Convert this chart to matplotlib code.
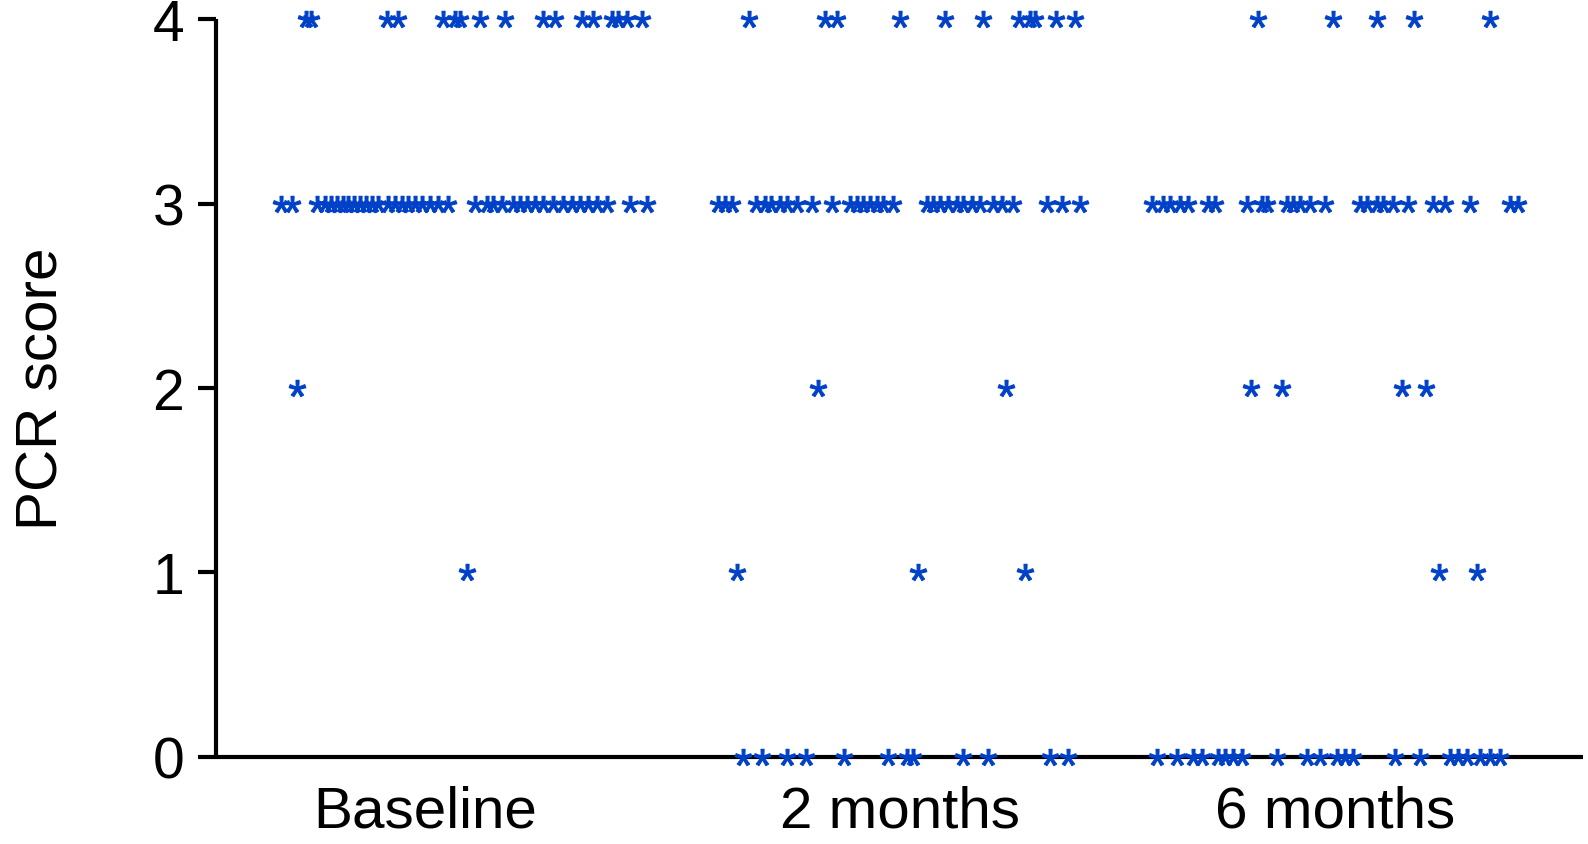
"""
PCR score per patient at baseline, 2 months and 6 months, drawn as a strip
of asterisks (one per patient) for every score level.
"""
import numpy as np
import matplotlib
matplotlib.use("Agg")
import matplotlib.pyplot as plt
from matplotlib.font_manager import FontProperties
from matplotlib.path import Path
from matplotlib.textpath import TextPath

plt.rcParams["font.family"] = ["Liberation Sans", "DejaVu Sans"]

# --------------------------------------------------------------------------- #
# Data: horizontal jitter of each patient, in % of the spacing between groups
# --------------------------------------------------------------------------- #
GROUPS = ["Baseline", "2 months", "6 months"]
SCORES = [0, 1, 2, 3, 4]

BASELINE = {
    4: [-36.3, -35.2, -17.6, -15.1, -4.8, -2.1, -0.9, 3.7, 9.4, 18.2, 20.9,
        27.0, 29.7, 33.9, 35.4, 37.4, 40.8],
    3: [-42.0, -39.5, -33.7, -31.9, -30.6, -29.2, -27.9, -26.6, -25.2, -23.9,
        -22.5, -21.2, -19.7, -17.4, -15.8, -14.3, -12.8, -11.3, -9.7, -7.8,
        -5.9, -3.6, 2.5, 5.2, 6.7, 8.7, 11.3, 12.9, 14.4, 16.3, 18.2, 20.5,
        22.8, 24.7, 26.6, 28.5, 30.5, 32.8, 38.1, 42.0],
    2: [-38.3],
    1: [0.8],
    0: [],
}

MONTH2 = {
    4: [-34.5, -17.1, -14.4, 0.1, 10.4, 19.1, 27.5, 30.0, 31.1, 35.9, 40.3],
    3: [-41.6, -40.1, -38.5, -33.0, -30.9, -29.6, -27.4, -25.9, -23.6, -20.2,
        -15.6, -11.4, -9.8, -8.3, -6.8, -5.2, -3.7, -1.4, 6.2, 7.8, 9.3, 11.2,
        13.1, 14.6, 16.6, 18.5, 21.5, 23.5, 26.1, 33.8, 37.2, 41.4],
    2: [-18.8, 24.5],
    1: [-37.3, 4.3, 28.8],
    0: [-35.9, -31.6, -25.9, -21.5, -12.7, -2.6, 1.7, 3.2, 14.6, 20.4, 34.6,
        38.8],
}

MONTH6 = {
    4: [-17.7, -0.4, 9.6, 18.2, 35.6],
    3: [-42.1, -39.4, -37.9, -35.6, -33.7, -29.1, -27.6, -20.3, -16.8, -15.7,
        -11.1, -9.6, -8.0, -5.7, -2.3, 5.7, 7.3, 9.6, 11.1, 13.4, 16.8, 22.6,
        25.3, 31.0, 40.2, 42.1],
    2: [-19.2, -12.2, 15.4, 21.0],
    1: [23.9, 32.7],
    0: [-40.9, -36.3, -32.5, -30.6, -26.8, -25.3, -23.4, -21.4, -13.4, -6.5,
        -3.4, 0.4, 2.3, 4.2, 13.8, 19.5, 26.4, 28.3, 30.2, 33.3, 35.6, 37.9],
}

# --------------------------------------------------------------------------- #
# Style
# --------------------------------------------------------------------------- #
BLUE = "#0041c8"
XTICK_POS = [-0.09, 1.0, 2.0]


def star_marker() -> Path:
    """Arial-like asterisk glyph as a marker path centred on its own box."""
    tp = TextPath((0, 0), "*", size=1, prop=FontProperties(family="Liberation Sans"))
    verts = tp.vertices.copy()
    codes = tp.codes
    real = codes != Path.CLOSEPOLY
    cx = (verts[real, 0].min() + verts[real, 0].max()) / 2
    cy = (verts[real, 1].min() + verts[real, 1].max()) / 2
    verts -= [cx, cy]
    verts[~real] = 0
    return Path(verts, codes)


STAR = star_marker()

fig = plt.figure(figsize=(15.88, 8.45), dpi=100)
ax = fig.add_axes([216 / 1588, 87.4 / 845, 1367 / 1588, 737.3 / 845])

for g, group in enumerate([BASELINE, MONTH2, MONTH6]):
    for score in SCORES:
        offs = np.array(group[score])
        if offs.size == 0:
            continue
        ax.plot(g + offs / 100, np.full(offs.size, score), ls="none",
                marker=STAR, ms=12, color=BLUE, mec=BLUE, mew=0.8,
                clip_on=False, zorder=3)

ax.set_xlim(-0.5695, 2.5695)
ax.set_ylim(0, 4)
ax.set_yticks(SCORES)
ax.set_xticks(XTICK_POS, GROUPS)
ax.set_ylabel("PCR score", fontsize=42)
ax.yaxis.set_label_coords(-0.107, 0.5)

for side in ("top", "right"):
    ax.spines[side].set_visible(False)
for side in ("left", "bottom"):
    ax.spines[side].set_linewidth(3)
    ax.spines[side].set_capstyle("butt")

ax.tick_params(axis="y", length=13, width=3, pad=10, labelsize=41)
ax.tick_params(axis="x", length=0, pad=20, labelsize=42)

fig.savefig("out.png", dpi=100)
plt.close(fig)
